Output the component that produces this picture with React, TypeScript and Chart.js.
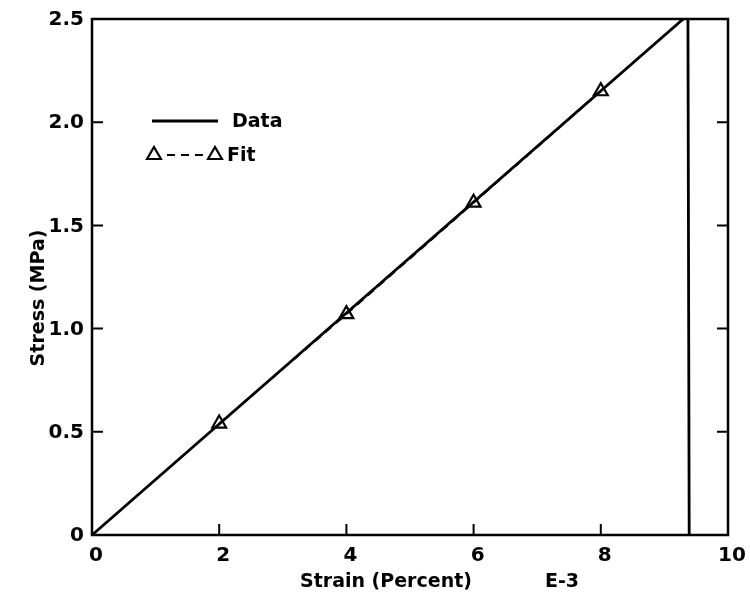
import React, { useEffect, useRef } from "react";
import { Chart, registerables } from "chart.js";

Chart.register(...registerables);

const dataStrain = [0, 9.37, 9.39];
const dataStress = [0, 2.52, 0];
const fitStrain = [2, 4, 6, 8];
const fitStress = [0.54, 1.07, 1.61, 2.15];
const xTickValues = [0, 2, 4, 6, 8, 10];
const xTickLabels = ["0", "2", "4", "6", "8", "10"];
const yTickValues = [0, 0.5, 1, 1.5, 2, 2.5];
const yTickLabels = ["0", "0.5", "1.0", "1.5", "2.0", "2.5"];
const xTitle = "Strain (Percent)";
const xExponent = "E-3";
const yTitle = "Stress (MPa)";
const legendLabels = ["Data", "Fit"];

const FONT = "'DejaVu Sans', 'Liberation Sans', sans-serif";

const framePlugin = {
  id: "frameAndExtras",
  afterDraw(chart: any) {
    const ctx = chart.ctx;
    const { left, right, top, bottom } = chart.chartArea;
    const xs = chart.scales.x;
    const ys = chart.scales.y;
    ctx.save();
    ctx.strokeStyle = "#000";
    ctx.lineWidth = 2.5;
    ctx.strokeRect(left, top, right - left, bottom - top);
    // inward ticks
    ctx.lineWidth = 2;
    xTickValues.forEach((v) => {
      const px = xs.getPixelForValue(v);
      ctx.beginPath();
      ctx.moveTo(px, bottom);
      ctx.lineTo(px, bottom - 11);
      ctx.stroke();
    });
    yTickValues.forEach((v) => {
      const py = ys.getPixelForValue(v);
      ctx.beginPath();
      ctx.moveTo(left, py);
      ctx.lineTo(left + 11, py);
      ctx.moveTo(right, py);
      ctx.lineTo(right - 11, py);
      ctx.stroke();
    });
    // tick labels
    ctx.fillStyle = "#000";
    ctx.font = `bold 20px ${FONT}`;
    ctx.textAlign = "center";
    ctx.textBaseline = "middle";
    xTickValues.forEach((v, i) => {
      const px = xs.getPixelForValue(v);
      ctx.fillText(xTickLabels[i], px + 4, bottom + 21);
    });
    ctx.textAlign = "right";
    yTickValues.forEach((v, i) => {
      const py = ys.getPixelForValue(v);
      ctx.fillText(yTickLabels[i], left - 8, py + 1);
    });
    // axis titles
    ctx.font = `bold 19px ${FONT}`;
    ctx.textAlign = "left";
    ctx.fillText(xTitle, 300, bottom + 47);
    ctx.fillText(xExponent, 545, bottom + 47);
    ctx.save();
    ctx.translate(39, 298);
    ctx.rotate(-Math.PI / 2);
    ctx.textAlign = "center";
    ctx.fillText(yTitle, 0, 0);
    ctx.restore();
    // legend
    ctx.lineWidth = 2.8;
    ctx.setLineDash([]);
    ctx.beginPath();
    ctx.moveTo(152, 121);
    ctx.lineTo(218, 121);
    ctx.stroke();
    ctx.textAlign = "left";
    ctx.fillText(legendLabels[0], 232, 122);
    const tri = (cx: number, cy: number) => {
      const r = 8;
      ctx.beginPath();
      ctx.moveTo(cx, cy - r);
      ctx.lineTo(cx + r * 0.87, cy + r * 0.5);
      ctx.lineTo(cx - r * 0.87, cy + r * 0.5);
      ctx.closePath();
      ctx.stroke();
    };
    ctx.lineWidth = 2.2;
    tri(154, 155);
    tri(215, 155);
    ctx.setLineDash([8, 6]);
    ctx.beginPath();
    ctx.moveTo(167, 155);
    ctx.lineTo(205, 155);
    ctx.stroke();
    ctx.setLineDash([]);
    ctx.fillText(legendLabels[1], 227, 156);
    ctx.restore();
  },
};

export default function App() {
  const canvasRef = useRef<HTMLCanvasElement | null>(null);

  useEffect(() => {
    document.body.style.margin = "0";
    const canvas = canvasRef.current;
    if (!canvas) return;
    const chart = new Chart(canvas, {
      type: "scatter",
      data: {
        datasets: [
          {
            label: legendLabels[1],
            data: fitStrain.map((x, i) => ({ x, y: fitStress[i] })),
            showLine: true,
            borderColor: "#000",
            borderWidth: 2,
            borderDash: [8, 6],
            pointStyle: "triangle",
            pointRadius: 8,
            pointBorderWidth: 2.2,
            pointBorderColor: "#000",
            pointBackgroundColor: "rgba(255,255,255,0)",
            order: 1,
          },
          {
            label: legendLabels[0],
            data: dataStrain.map((x, i) => ({ x, y: dataStress[i] })),
            showLine: true,
            borderColor: "#000",
            borderWidth: 2.8,
            pointRadius: 0,
            tension: 0,
            order: 2,
          },
        ],
      },
      options: {
        responsive: false,
        animation: false,
        events: [],
        layout: { padding: { top: 19, right: 22, left: 0, bottom: 0 } },
        plugins: {
          legend: { display: false },
          tooltip: { enabled: false },
        },
        scales: {
          x: {
            type: "linear",
            min: 0,
            max: 10,
            grid: { display: false },
            border: { display: false },
            ticks: { display: false, stepSize: 2 },
            afterFit: (scale: any) => {
              scale.height = 77;
            },
          },
          y: {
            type: "linear",
            min: 0,
            max: 2.5,
            grid: { display: false },
            border: { display: false },
            ticks: { display: false, stepSize: 0.5 },
            afterFit: (scale: any) => {
              scale.width = 92;
            },
          },
        },
      },
      plugins: [framePlugin],
    });
    return () => chart.destroy();
  }, []);

  return (
    <div style={{ position: "absolute", left: 0, top: 0, width: 750, height: 612, background: "#fff" }}>
      <canvas ref={canvasRef} width={750} height={612} />
    </div>
  );
}
